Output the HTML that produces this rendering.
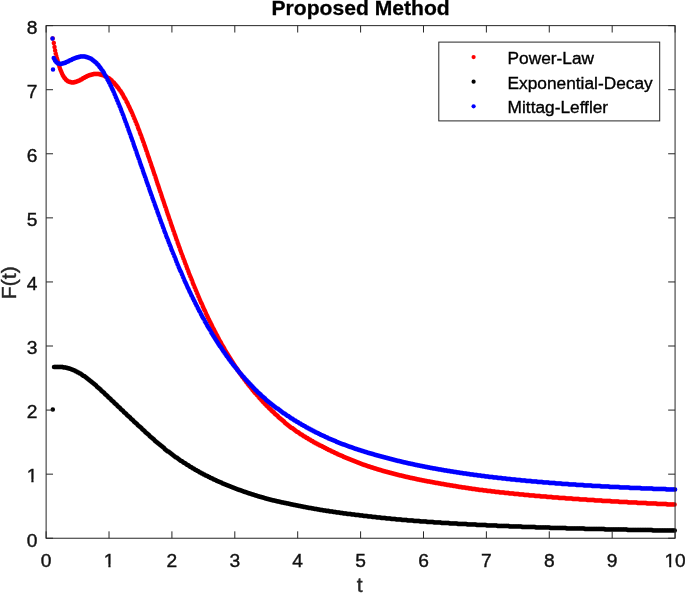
<!DOCTYPE html>
<html><head><meta charset="utf-8"><title>Proposed Method</title>
<style>
html,body{margin:0;padding:0;background:#fff;}
body{width:685px;height:593px;overflow:hidden;}
svg{display:block;font-family:"Liberation Sans",Arial,Helvetica,sans-serif;}
</style></head><body>
<svg width="685" height="593" viewBox="0 0 685 593">
<rect x="0" y="0" width="685" height="593" fill="#fff"/>
<g fill="none" stroke-linecap="round" stroke-linejoin="round" stroke-width="4.5">
<path stroke="#f00" d="M52.7 38.5h0M53.8 43h0M54.5 47h0M55.1 50.5h0M55.7 53.5h0M56.3 56h0M57 58.5h0M57.6 60.5h0M58.23 63h0M58.86 65h0M59.49 67h0M60.12 69h0M60.74 70.5h0M61.37 72h0M62 73.5h0M62.63 75h0M63.26 76h0M63.89 77h0M64.52 78h0M65.15 78.5h0M65.78 79.5h0M66.41 80h0M67.03 80.5h0M67.66 81h0M68.29 81.5h0M68.92 81.5h0M69.55 82h0M70.18 82h0M70.81 82h0M71.44 82.5h0M72.07 82.5h0M72.69 82.5h0M73.32 82.5h0M73.95 82.5h0M74.58 82h0M75.21 82h0M75.84 82h0M76.47 81.5h0M77.1 81.5h0M77.73 81h0M78.36 81h0M78.98 80.5h0M79.61 80.5h0M80.24 80h0M80.87 79.5h0M81.5 79.5h0M82.13 79h0M82.76 78.5h0M83.39 78h0M84.02 78h0M84.64 77.5h0M85.27 77h0M85.9 77h0M86.53 76.5h0M87.16 76h0M87.79 76h0M88.42 75.5h0M89.05 75.5h0M89.68 75h0M90.31 75h0M90.93 75h0M91.56 74.5h0M92.19 74.5h0M92.82 74.5h0M93.45 74h0M94.08 74h0M94.71 74h0M95.34 74h0M95.97 74h0M96.59 74h0M97.22 74h0M97.85 74h0M98.48 74h0M99.11 74h0M99.74 74.5h0M100.37 74.5h0M101 74.5h0M101.63 75h0M102.26 75h0M102.88 75h0M103.51 75.5h0M104.14 75.5h0M104.77 76h0M105.4 76.5h0M106.03 76.5h0M106.66 77h0M107.29 77.5h0M107.92 78h0M108.54 78h0M109.17 78.5h0M109.8 79h0M110.43 79.5h0M111.06 80h0M111.69 80.5h0M112.32 81.5h0M112.95 82h0M113.58 82.5h0M114.21 83h0M114.83 84h0M115.46 84.5h0M116.09 85.5h0M116.72 86h0M117.35 87h0M117.98 87.5h0M118.61 88.5h0M119.24 89.5h0M119.87 90.5h0M120.5 91h0M121.12 92h0M121.75 93h0M122.38 94h0M123.01 95h0M123.64 96.5h0M124.27 97.5h0M124.9 98.5h0M125.53 99.5h0M126.16 101h0M126.78 102h0M127.41 103h0M128.04 104.5h0M128.67 106h0M129.3 107h0M129.93 108.5h0M130.56 110h0M131.19 111h0M131.82 112.5h0M132.45 114h0M133.07 115.5h0M133.7 117h0M134.33 118.5h0M134.96 120h0M135.59 121.5h0M136.22 123h0M136.85 124.5h0M137.48 126h0M138.11 128h0M138.73 129.5h0M139.36 131h0M139.99 133h0M140.62 134.5h0M141.25 136h0M141.88 138h0M142.51 139.5h0M143.14 141.5h0M143.77 143h0M144.4 145h0M145.02 146.5h0M145.65 148.5h0M146.28 150.5h0M146.91 152h0M147.54 154h0M148.17 156h0M148.8 157.5h0M149.43 159.5h0M150.06 161.5h0M150.68 163h0M151.31 165h0M151.94 167h0M152.57 168.5h0M153.2 170.5h0M153.83 172.5h0M154.46 174.5h0M155.09 176h0M155.72 178h0M156.35 180h0M156.97 182h0M157.6 184h0M158.23 185.5h0M158.86 187.5h0M159.49 189.5h0M160.12 191.5h0M160.75 193h0M161.38 195h0M162.01 197h0M162.63 199h0M163.26 200.5h0M163.89 202.5h0M164.52 204.5h0M165.15 206.5h0M165.78 208h0M166.41 210h0M167.04 212h0M167.67 214h0M168.3 215.5h0M168.92 217.5h0M169.55 219.5h0M170.18 221h0M170.81 223h0M171.44 225h0M172.07 226.5h0M172.7 228.5h0M173.33 230.5h0M173.96 232h0M174.58 234h0M175.21 235.5h0M175.84 237.5h0M176.47 239.5h0M177.1 241h0M177.73 243h0M178.36 244.5h0M178.99 246.5h0M179.62 248h0M180.25 250h0M180.87 251.5h0M181.5 253.5h0M182.13 255h0M182.76 256.5h0M183.39 258.5h0M184.02 260h0M184.65 261.5h0M185.28 263.5h0M185.91 265h0M186.53 266.5h0M187.16 268.5h0M187.79 270h0M188.42 271.5h0M189.05 273.5h0M189.68 275h0M190.31 276.5h0M190.94 278h0M191.57 279.5h0M192.2 281h0M192.82 283h0M193.45 284.5h0M194.08 286h0M194.71 287.5h0M195.34 289h0M195.97 290.5h0M196.6 292h0M197.23 293.5h0M197.86 295h0M198.48 296.5h0M199.11 298h0M199.74 299.5h0M200.37 301h0M201 302.5h0M201.63 303.5h0M202.26 305h0M202.89 306.5h0M203.52 308h0M204.15 309.5h0M204.77 310.5h0M205.4 312h0M206.03 313.5h0M206.66 315h0M207.29 316h0M207.92 317.5h0M208.55 319h0M209.18 320h0M209.81 321.5h0M210.43 322.5h0M211.06 324h0M211.69 325h0M212.32 326.5h0M212.95 328h0M213.58 329h0M214.21 330h0M214.84 331.5h0M215.47 332.5h0M216.1 334h0M216.72 335h0M217.35 336h0M217.98 337.5h0M218.61 338.5h0M219.24 340h0M219.87 341h0M220.5 342h0M221.13 343h0M221.76 344.5h0M222.38 345.5h0M223.01 346.5h0M223.64 347.5h0M224.27 348.5h0M224.9 350h0M225.53 351h0M226.16 352h0M226.79 353h0M227.42 354h0M228.05 355h0M228.67 356h0M229.3 357h0M229.93 358h0M230.56 359h0M231.19 360h0M231.82 361h0M232.45 362h0M233.08 363h0M233.71 364h0M234.33 365h0M234.96 366h0M235.59 367h0M236.22 368h0M236.85 368.5h0M237.48 369.5h0M238.11 370.5h0M238.74 371.5h0M239.37 372.5h0M240 373.5h0M240.62 374h0M241.25 375h0M241.88 376h0M242.51 377h0M243.14 377.5h0M243.77 378.5h0M244.4 379.5h0M245.03 380h0M245.66 381h0M246.29 382h0M246.91 382.5h0M247.54 383.5h0M248.17 384.5h0M248.8 385h0M249.43 386h0M250.06 386.5h0M250.69 387.5h0M251.32 388h0M251.95 389h0M252.57 390h0M253.2 390.5h0M253.83 391.5h0M254.46 392h0M255.09 393h0M255.72 393.5h0M256.35 394h0M256.98 395h0M257.61 395.5h0M258.24 396.5h0M258.86 397h0M259.49 398h0M260.12 398.5h0M260.75 399h0M261.38 400h0M262.01 400.5h0M262.64 401.5h0M263.27 402h0M263.9 402.5h0M264.52 403.5h0M265.15 404h0M265.78 404.5h0M266.41 405.5h0M267.04 406h0M267.67 406.5h0M268.3 407h0M268.93 408h0M269.56 408.5h0M270.19 409h0M270.81 409.5h0M271.44 410.5h0M272.07 411h0M272.7 411.5h0M273.33 412h0M273.96 412.5h0M274.59 413.5h0M275.22 414h0M275.85 414.5h0M276.47 415h0M277.1 415.5h0M277.73 416h0M278.36 417h0M278.99 417.5h0M279.62 418h0M280.25 418.5h0M280.88 419h0M281.51 419.5h0M282.14 420h0M282.76 420.5h0M283.39 421h0M284.02 421.5h0M284.65 422.5h0M285.28 423h0M285.91 423.5h0M286.54 424h0M287.17 424.5h0M287.8 425h0M288.42 425.5h0M289.05 426h0M289.68 426.5h0M290.31 427h0M290.94 427.5h0M291.57 428h0M292.2 428h0M292.83 428.5h0M293.46 429h0M294.09 429.5h0M294.71 430h0M295.34 430.5h0M295.97 431h0M296.6 431.5h0M297.23 432h0M297.86 432h0M298.49 432.5h0M299.12 433h0M299.75 433.5h0M300.37 434h0M301 434.5h0M301.63 434.5h0M302.26 435h0M302.89 435.5h0M303.52 436h0M304.15 436.5h0M304.78 436.5h0M305.41 437h0M306.04 437.5h0M306.66 438h0M307.29 438h0M307.92 438.5h0M308.55 439h0M309.18 439.5h0M309.81 439.5h0M310.44 440h0M311.07 440.5h0M311.7 441h0M312.32 441h0M312.95 441.5h0M313.58 442h0M314.21 442.5h0M314.84 442.5h0M315.47 443h0M316.1 443.5h0M316.73 443.5h0M317.36 444h0M317.99 444.5h0M318.61 444.5h0M319.24 445h0M319.87 445.5h0M320.5 445.5h0M321.13 446h0M321.76 446h0M322.39 446.5h0M323.02 447h0M323.65 447h0M324.27 447.5h0M324.9 448h0M325.53 448h0M326.16 448.5h0M326.79 449h0M327.42 449h0M328.05 449.5h0M328.68 450h0M329.31 450h0M329.94 450.5h0M330.56 450.5h0M331.19 451h0M331.82 451.5h0M332.45 451.5h0M333.08 452h0M333.71 452h0M334.34 452.5h0M334.97 453h0M335.6 453h0M336.22 453.5h0M336.85 453.5h0M337.48 454h0M338.11 454.5h0M338.74 454.5h0M339.37 455h0M340 455h0M340.63 455.5h0M341.26 455.5h0M341.89 456h0M342.51 456h0M343.14 456.5h0M343.77 457h0M344.4 457h0M345.03 457.5h0M345.66 457.5h0M346.29 458h0M346.92 458h0M347.55 458.5h0M348.17 458.5h0M348.8 459h0M349.43 459h0M350.06 459.5h0M350.69 459.5h0M351.32 460h0M351.95 460h0M352.58 460.5h0M353.21 460.5h0M353.84 461h0M354.46 461h0M355.09 461.5h0M355.72 461.5h0M356.35 462h0M356.98 462h0M357.61 462.5h0M358.24 462.5h0M358.87 463h0M359.5 463h0M360.12 463.5h0M360.75 463.5h0M361.38 464h0M362.01 464h0M362.64 464.5h0M363.27 464.5h0M363.9 465h0M364.53 465h0M365.16 465h0M365.79 465.5h0M366.41 465.5h0M367.04 466h0M367.67 466h0M368.3 466.5h0M368.93 466.5h0M369.56 466.5h0M370.19 467h0M370.82 467h0M371.45 467.5h0M372.08 467.5h0M372.7 467.5h0M373.33 468h0M373.96 468h0M374.59 468.5h0M375.22 468.5h0M375.85 468.5h0M376.48 469h0M377.11 469h0M377.74 469.5h0M378.36 469.5h0M378.99 469.5h0M379.62 470h0M380.25 470h0M380.88 470h0M381.51 470.5h0M382.14 470.5h0M382.77 471h0M383.4 471h0M384.03 471h0M384.65 471.5h0M385.28 471.5h0M385.91 471.5h0M386.54 472h0M387.17 472h0M387.8 472h0M388.43 472.5h0M389.06 472.5h0M389.69 472.5h0M390.31 473h0M390.94 473h0M391.57 473h0M392.2 473.5h0M392.83 473.5h0M393.46 473.5h0M394.09 474h0M394.72 474h0M395.35 474h0M395.98 474.5h0M396.6 474.5h0M397.23 474.5h0M397.86 475h0M398.49 475h0M399.12 475h0M399.75 475.5h0M400.38 475.5h0M401.01 475.5h0M401.64 475.5h0M402.26 476h0M402.89 476h0M403.52 476h0M404.15 476.5h0M404.78 476.5h0M405.41 476.5h0M406.04 477h0M406.67 477h0M407.3 477h0M407.93 477h0M408.55 477.5h0M409.18 477.5h0M409.81 477.5h0M410.44 478h0M411.07 478h0M411.7 478h0M412.33 478h0M412.96 478.5h0M413.59 478.5h0M414.21 478.5h0M414.84 478.5h0M415.47 479h0M416.1 479h0M416.73 479h0M417.36 479.5h0M417.99 479.5h0M418.62 479.5h0M419.25 479.5h0M419.88 480h0M420.5 480h0M421.13 480h0M421.76 480h0M422.39 480.5h0M423.02 480.5h0M423.65 480.5h0M424.28 480.5h0M424.91 481h0M425.54 481h0M426.16 481h0M426.79 481h0M427.42 481.5h0M428.05 481.5h0M428.68 481.5h0M429.31 481.5h0M429.94 481.5h0M430.57 482h0M431.2 482h0M431.83 482h0M432.45 482h0M433.08 482.5h0M433.71 482.5h0M434.34 482.5h0M434.97 482.5h0M435.6 483h0M436.23 483h0M436.86 483h0M437.49 483h0M438.11 483h0M438.74 483.5h0M439.37 483.5h0M440 483.5h0M440.63 483.5h0M441.26 484h0M441.89 484h0M442.52 484h0M443.15 484h0M443.78 484h0M444.4 484.5h0M445.03 484.5h0M445.66 484.5h0M446.29 484.5h0M446.92 485h0M447.55 485h0M448.18 485h0M448.81 485h0M449.44 485h0M450.06 485.5h0M450.69 485.5h0M451.32 485.5h0M451.95 485.5h0M452.58 485.5h0M453.21 486h0M453.84 486h0M454.47 486h0M455.1 486h0M455.73 486h0M456.35 486.5h0M456.98 486.5h0M457.61 486.5h0M458.24 486.5h0M458.87 487h0M459.5 487h0M460.13 487h0M460.76 487h0M461.39 487h0M462.01 487.5h0M462.64 487.5h0M463.27 487.5h0M463.9 487.5h0M464.53 487.5h0M465.16 487.5h0M465.79 488h0M466.42 488h0M467.05 488h0M467.68 488h0M468.3 488h0M468.93 488.5h0M469.56 488.5h0M470.19 488.5h0M470.82 488.5h0M471.45 488.5h0M472.08 489h0M472.71 489h0M473.34 489h0M473.96 489h0M474.59 489h0M475.22 489h0M475.85 489.5h0M476.48 489.5h0M477.11 489.5h0M477.74 489.5h0M478.37 489.5h0M479 490h0M479.63 490h0M480.25 490h0M480.88 490h0M481.51 490h0M482.14 490h0M482.77 490h0M483.4 490.5h0M484.03 490.5h0M484.66 490.5h0M485.29 490.5h0M485.91 490.5h0M486.54 490.5h0M487.17 491h0M487.8 491h0M488.43 491h0M489.06 491h0M489.69 491h0M490.32 491h0M490.95 491h0M491.58 491.5h0M492.2 491.5h0M492.83 491.5h0M493.46 491.5h0M494.09 491.5h0M494.72 491.5h0M495.35 492h0M495.98 492h0M496.61 492h0M497.24 492h0M497.87 492h0M498.49 492h0M499.12 492h0M499.75 492.5h0M500.38 492.5h0M501.01 492.5h0M501.64 492.5h0M502.27 492.5h0M502.9 492.5h0M503.53 492.5h0M504.15 492.5h0M504.78 493h0M505.41 493h0M506.04 493h0M506.67 493h0M507.3 493h0M507.93 493h0M508.56 493h0M509.19 493.5h0M509.82 493.5h0M510.44 493.5h0M511.07 493.5h0M511.7 493.5h0M512.33 493.5h0M512.96 493.5h0M513.59 493.5h0M514.22 494h0M514.85 494h0M515.48 494h0M516.1 494h0M516.73 494h0M517.36 494h0M517.99 494h0M518.62 494h0M519.25 494.5h0M519.88 494.5h0M520.51 494.5h0M521.14 494.5h0M521.77 494.5h0M522.39 494.5h0M523.02 494.5h0M523.65 494.5h0M524.28 495h0M524.91 495h0M525.54 495h0M526.17 495h0M526.8 495h0M527.43 495h0M528.05 495h0M528.68 495h0M529.31 495.5h0M529.94 495.5h0M530.57 495.5h0M531.2 495.5h0M531.83 495.5h0M532.46 495.5h0M533.09 495.5h0M533.72 495.5h0M534.34 495.5h0M534.97 496h0M535.6 496h0M536.23 496h0M536.86 496h0M537.49 496h0M538.12 496h0M538.75 496h0M539.38 496h0M540 496h0M540.63 496.5h0M541.26 496.5h0M541.89 496.5h0M542.52 496.5h0M543.15 496.5h0M543.78 496.5h0M544.41 496.5h0M545.04 496.5h0M545.67 496.5h0M546.29 496.5h0M546.92 497h0M547.55 497h0M548.18 497h0M548.81 497h0M549.44 497h0M550.07 497h0M550.7 497h0M551.33 497h0M551.95 497h0M552.58 497.5h0M553.21 497.5h0M553.84 497.5h0M554.47 497.5h0M555.1 497.5h0M555.73 497.5h0M556.36 497.5h0M556.99 497.5h0M557.62 497.5h0M558.24 497.5h0M558.87 498h0M559.5 498h0M560.13 498h0M560.76 498h0M561.39 498h0M562.02 498h0M562.65 498h0M563.28 498h0M563.9 498h0M564.53 498h0M565.16 498h0M565.79 498.5h0M566.42 498.5h0M567.05 498.5h0M567.68 498.5h0M568.31 498.5h0M568.94 498.5h0M569.57 498.5h0M570.19 498.5h0M570.82 498.5h0M571.45 498.5h0M572.08 498.5h0M572.71 499h0M573.34 499h0M573.97 499h0M574.6 499h0M575.23 499h0M575.85 499h0M576.48 499h0M577.11 499h0M577.74 499h0M578.37 499h0M579 499h0M579.63 499.5h0M580.26 499.5h0M580.89 499.5h0M581.52 499.5h0M582.14 499.5h0M582.77 499.5h0M583.4 499.5h0M584.03 499.5h0M584.66 499.5h0M585.29 499.5h0M585.92 499.5h0M586.55 499.5h0M587.18 500h0M587.8 500h0M588.43 500h0M589.06 500h0M589.69 500h0M590.32 500h0M590.95 500h0M591.58 500h0M592.21 500h0M592.84 500h0M593.47 500h0M594.09 500h0M594.72 500.5h0M595.35 500.5h0M595.98 500.5h0M596.61 500.5h0M597.24 500.5h0M597.87 500.5h0M598.5 500.5h0M599.13 500.5h0M599.75 500.5h0M600.38 500.5h0M601.01 500.5h0M601.64 500.5h0M602.27 501h0M602.9 501h0M603.53 501h0M604.16 501h0M604.79 501h0M605.42 501h0M606.04 501h0M606.67 501h0M607.3 501h0M607.93 501h0M608.56 501h0M609.19 501h0M609.82 501h0M610.45 501h0M611.08 501.5h0M611.7 501.5h0M612.33 501.5h0M612.96 501.5h0M613.59 501.5h0M614.22 501.5h0M614.85 501.5h0M615.48 501.5h0M616.11 501.5h0M616.74 501.5h0M617.37 501.5h0M617.99 501.5h0M618.62 501.5h0M619.25 502h0M619.88 502h0M620.51 502h0M621.14 502h0M621.77 502h0M622.4 502h0M623.03 502h0M623.66 502h0M624.28 502h0M624.91 502h0M625.54 502h0M626.17 502h0M626.8 502h0M627.43 502h0M628.06 502.5h0M628.69 502.5h0M629.32 502.5h0M629.94 502.5h0M630.57 502.5h0M631.2 502.5h0M631.83 502.5h0M632.46 502.5h0M633.09 502.5h0M633.72 502.5h0M634.35 502.5h0M634.98 502.5h0M635.61 502.5h0M636.23 502.5h0M636.86 502.5h0M637.49 503h0M638.12 503h0M638.75 503h0M639.38 503h0M640.01 503h0M640.64 503h0M641.27 503h0M641.89 503h0M642.52 503h0M643.15 503h0M643.78 503h0M644.41 503h0M645.04 503h0M645.67 503h0M646.3 503h0M646.93 503.5h0M647.56 503.5h0M648.18 503.5h0M648.81 503.5h0M649.44 503.5h0M650.07 503.5h0M650.7 503.5h0M651.33 503.5h0M651.96 503.5h0M652.59 503.5h0M653.22 503.5h0M653.84 503.5h0M654.47 503.5h0M655.1 503.5h0M655.73 503.5h0M656.36 503.5h0M656.99 504h0M657.62 504h0M658.25 504h0M658.88 504h0M659.51 504h0M660.13 504h0M660.76 504h0M661.39 504h0M662.02 504h0M662.65 504h0M663.28 504h0M663.91 504h0M664.54 504h0M665.17 504h0M665.79 504h0M666.42 504h0M667.05 504.5h0M667.68 504.5h0M668.31 504.5h0M668.94 504.5h0M669.57 504.5h0M670.2 504.5h0M670.83 504.5h0M671.46 504.5h0M672.08 504.5h0M672.71 504.5h0M673.34 504.5h0M673.97 504.5h0M674.6 504.5h0"/>
<path stroke="#000" d="M52.8 409.5h0M54 367h0M54.63 367h0M55.26 367h0M55.89 367h0M56.52 367h0M57.14 367h0M57.77 367h0M58.4 367h0M59.03 367h0M59.66 367h0M60.29 367h0M60.92 367h0M61.55 367h0M62.18 367h0M62.81 367h0M63.43 367.5h0M64.06 367.5h0M64.69 367.5h0M65.32 367.5h0M65.95 367.5h0M66.58 368h0M67.21 368h0M67.84 368h0M68.47 368.5h0M69.09 368.5h0M69.72 368.5h0M70.35 369h0M70.98 369h0M71.61 369.5h0M72.24 369.5h0M72.87 370h0M73.5 370h0M74.13 370.5h0M74.76 370.5h0M75.38 371h0M76.01 371.5h0M76.64 371.5h0M77.27 372h0M77.9 372.5h0M78.53 372.5h0M79.16 373h0M79.79 373.5h0M80.42 373.5h0M81.04 374h0M81.67 374.5h0M82.3 375h0M82.93 375.5h0M83.56 376h0M84.19 376h0M84.82 376.5h0M85.45 377h0M86.08 377.5h0M86.71 378h0M87.33 378.5h0M87.96 379h0M88.59 379.5h0M89.22 380h0M89.85 380.5h0M90.48 381h0M91.11 381.5h0M91.74 382h0M92.37 382.5h0M92.99 383h0M93.62 383.5h0M94.25 384h0M94.88 384.5h0M95.51 385h0M96.14 385.5h0M96.77 386.5h0M97.4 387h0M98.03 387.5h0M98.66 388h0M99.28 388.5h0M99.91 389h0M100.54 389.5h0M101.17 390.5h0M101.8 391h0M102.43 391.5h0M103.06 392h0M103.69 392.5h0M104.32 393h0M104.94 394h0M105.57 394.5h0M106.2 395h0M106.83 395.5h0M107.46 396h0M108.09 397h0M108.72 397.5h0M109.35 398h0M109.98 398.5h0M110.61 399h0M111.23 400h0M111.86 400.5h0M112.49 401h0M113.12 401.5h0M113.75 402h0M114.38 403h0M115.01 403.5h0M115.64 404h0M116.27 404.5h0M116.9 405h0M117.52 406h0M118.15 406.5h0M118.78 407h0M119.41 407.5h0M120.04 408h0M120.67 409h0M121.3 409.5h0M121.93 410h0M122.56 410.5h0M123.18 411h0M123.81 412h0M124.44 412.5h0M125.07 413h0M125.7 413.5h0M126.33 414h0M126.96 415h0M127.59 415.5h0M128.22 416h0M128.85 416.5h0M129.47 417h0M130.1 417.5h0M130.73 418.5h0M131.36 419h0M131.99 419.5h0M132.62 420h0M133.25 420.5h0M133.88 421.5h0M134.51 422h0M135.13 422.5h0M135.76 423h0M136.39 423.5h0M137.02 424h0M137.65 425h0M138.28 425.5h0M138.91 426h0M139.54 426.5h0M140.17 427h0M140.8 427.5h0M141.42 428h0M142.05 429h0M142.68 429.5h0M143.31 430h0M143.94 430.5h0M144.57 431h0M145.2 432h0M145.83 432.5h0M146.46 433h0M147.08 433.5h0M147.71 434h0M148.34 434.5h0M148.97 435h0M149.6 436h0M150.23 436.5h0M150.86 437h0M151.49 437.5h0M152.12 438h0M152.75 438.5h0M153.37 439h0M154 439.5h0M154.63 440.5h0M155.26 441h0M155.89 441.5h0M156.52 442h0M157.15 442.5h0M157.78 443h0M158.41 443.5h0M159.03 444h0M159.66 444.5h0M160.29 445h0M160.92 445.5h0M161.55 446h0M162.18 446.5h0M162.81 447h0M163.44 447.5h0M164.07 448h0M164.7 449h0M165.32 449.5h0M165.95 450h0M166.58 450.5h0M167.21 451h0M167.84 451.5h0M168.47 451.5h0M169.1 452h0M169.73 452.5h0M170.36 453h0M170.98 453.5h0M171.61 454h0M172.24 454.5h0M172.87 455h0M173.5 455.5h0M174.13 456h0M174.76 456.5h0M175.39 457h0M176.02 457.5h0M176.65 457.5h0M177.27 458h0M177.9 458.5h0M178.53 459h0M179.16 459.5h0M179.79 460h0M180.42 460.5h0M181.05 461h0M181.68 461h0M182.31 461.5h0M182.93 462h0M183.56 462.5h0M184.19 463h0M184.82 463h0M185.45 463.5h0M186.08 464h0M186.71 464.5h0M187.34 465h0M187.97 465h0M188.6 465.5h0M189.22 466h0M189.85 466.5h0M190.48 467h0M191.11 467h0M191.74 467.5h0M192.37 468h0M193 468.5h0M193.63 468.5h0M194.26 469h0M194.88 469.5h0M195.51 470h0M196.14 470h0M196.77 470.5h0M197.4 471h0M198.03 471h0M198.66 471.5h0M199.29 472h0M199.92 472.5h0M200.55 472.5h0M201.17 473h0M201.8 473.5h0M202.43 473.5h0M203.06 474h0M203.69 474.5h0M204.32 474.5h0M204.95 475h0M205.58 475.5h0M206.21 475.5h0M206.83 476h0M207.46 476h0M208.09 476.5h0M208.72 477h0M209.35 477h0M209.98 477.5h0M210.61 478h0M211.24 478h0M211.87 478.5h0M212.5 478.5h0M213.12 479h0M213.75 479.5h0M214.38 479.5h0M215.01 480h0M215.64 480h0M216.27 480.5h0M216.9 481h0M217.53 481h0M218.16 481.5h0M218.78 481.5h0M219.41 482h0M220.04 482h0M220.67 482.5h0M221.3 482.5h0M221.93 483h0M222.56 483.5h0M223.19 483.5h0M223.82 484h0M224.45 484h0M225.07 484.5h0M225.7 484.5h0M226.33 485h0M226.96 485h0M227.59 485.5h0M228.22 485.5h0M228.85 486h0M229.48 486h0M230.11 486.5h0M230.73 486.5h0M231.36 487h0M231.99 487h0M232.62 487.5h0M233.25 487.5h0M233.88 488h0M234.51 488h0M235.14 488.5h0M235.77 488.5h0M236.4 489h0M237.02 489h0M237.65 489.5h0M238.28 489.5h0M238.91 490h0M239.54 490h0M240.17 490h0M240.8 490.5h0M241.43 490.5h0M242.06 491h0M242.69 491h0M243.31 491.5h0M243.94 491.5h0M244.57 492h0M245.2 492h0M245.83 492h0M246.46 492.5h0M247.09 492.5h0M247.72 493h0M248.35 493h0M248.97 493.5h0M249.6 493.5h0M250.23 493.5h0M250.86 494h0M251.49 494h0M252.12 494.5h0M252.75 494.5h0M253.38 494.5h0M254.01 495h0M254.64 495h0M255.26 495.5h0M255.89 495.5h0M256.52 495.5h0M257.15 496h0M257.78 496h0M258.41 496.5h0M259.04 496.5h0M259.67 496.5h0M260.3 497h0M260.92 497h0M261.55 497h0M262.18 497.5h0M262.81 497.5h0M263.44 497.5h0M264.07 498h0M264.7 498h0M265.33 498.5h0M265.96 498.5h0M266.59 498.5h0M267.21 499h0M267.84 499h0M268.47 499h0M269.1 499.5h0M269.73 499.5h0M270.36 499.5h0M270.99 500h0M271.62 500h0M272.25 500h0M272.87 500.5h0M273.5 500.5h0M274.13 500.5h0M274.76 500.5h0M275.39 501h0M276.02 501h0M276.65 501h0M277.28 501.5h0M277.91 501.5h0M278.54 501.5h0M279.16 501.5h0M279.79 502h0M280.42 502h0M281.05 502h0M281.68 502.5h0M282.31 502.5h0M282.94 502.5h0M283.57 502.5h0M284.2 503h0M284.82 503h0M285.45 503h0M286.08 503h0M286.71 503.5h0M287.34 503.5h0M287.97 503.5h0M288.6 503.5h0M289.23 504h0M289.86 504h0M290.49 504h0M291.11 504.5h0M291.74 504.5h0M292.37 504.5h0M293 504.5h0M293.63 505h0M294.26 505h0M294.89 505h0M295.52 505h0M296.15 505.5h0M296.77 505.5h0M297.4 505.5h0M298.03 505.5h0M298.66 506h0M299.29 506h0M299.92 506h0M300.55 506h0M301.18 506.5h0M301.81 506.5h0M302.44 506.5h0M303.06 506.5h0M303.69 507h0M304.32 507h0M304.95 507h0M305.58 507h0M306.21 507.5h0M306.84 507.5h0M307.47 507.5h0M308.1 507.5h0M308.72 508h0M309.35 508h0M309.98 508h0M310.61 508h0M311.24 508h0M311.87 508.5h0M312.5 508.5h0M313.13 508.5h0M313.76 508.5h0M314.39 509h0M315.01 509h0M315.64 509h0M316.27 509h0M316.9 509h0M317.53 509.5h0M318.16 509.5h0M318.79 509.5h0M319.42 509.5h0M320.05 510h0M320.67 510h0M321.3 510h0M321.93 510h0M322.56 510h0M323.19 510.5h0M323.82 510.5h0M324.45 510.5h0M325.08 510.5h0M325.71 510.5h0M326.34 511h0M326.96 511h0M327.59 511h0M328.22 511h0M328.85 511h0M329.48 511.5h0M330.11 511.5h0M330.74 511.5h0M331.37 511.5h0M332 511.5h0M332.62 511.5h0M333.25 512h0M333.88 512h0M334.51 512h0M335.14 512h0M335.77 512h0M336.4 512.5h0M337.03 512.5h0M337.66 512.5h0M338.29 512.5h0M338.91 512.5h0M339.54 512.5h0M340.17 513h0M340.8 513h0M341.43 513h0M342.06 513h0M342.69 513h0M343.32 513.5h0M343.95 513.5h0M344.57 513.5h0M345.2 513.5h0M345.83 513.5h0M346.46 513.5h0M347.09 514h0M347.72 514h0M348.35 514h0M348.98 514h0M349.61 514h0M350.24 514h0M350.86 514h0M351.49 514.5h0M352.12 514.5h0M352.75 514.5h0M353.38 514.5h0M354.01 514.5h0M354.64 514.5h0M355.27 515h0M355.9 515h0M356.52 515h0M357.15 515h0M357.78 515h0M358.41 515h0M359.04 515h0M359.67 515.5h0M360.3 515.5h0M360.93 515.5h0M361.56 515.5h0M362.19 515.5h0M362.81 515.5h0M363.44 516h0M364.07 516h0M364.7 516h0M365.33 516h0M365.96 516h0M366.59 516h0M367.22 516h0M367.85 516.5h0M368.48 516.5h0M369.1 516.5h0M369.73 516.5h0M370.36 516.5h0M370.99 516.5h0M371.62 516.5h0M372.25 517h0M372.88 517h0M373.51 517h0M374.14 517h0M374.76 517h0M375.39 517h0M376.02 517h0M376.65 517.5h0M377.28 517.5h0M377.91 517.5h0M378.54 517.5h0M379.17 517.5h0M379.8 517.5h0M380.43 517.5h0M381.05 518h0M381.68 518h0M382.31 518h0M382.94 518h0M383.57 518h0M384.2 518h0M384.83 518h0M385.46 518h0M386.09 518.5h0M386.71 518.5h0M387.34 518.5h0M387.97 518.5h0M388.6 518.5h0M389.23 518.5h0M389.86 518.5h0M390.49 518.5h0M391.12 519h0M391.75 519h0M392.38 519h0M393 519h0M393.63 519h0M394.26 519h0M394.89 519h0M395.52 519h0M396.15 519.5h0M396.78 519.5h0M397.41 519.5h0M398.04 519.5h0M398.66 519.5h0M399.29 519.5h0M399.92 519.5h0M400.55 519.5h0M401.18 519.5h0M401.81 520h0M402.44 520h0M403.07 520h0M403.7 520h0M404.33 520h0M404.95 520h0M405.58 520h0M406.21 520h0M406.84 520h0M407.47 520.5h0M408.1 520.5h0M408.73 520.5h0M409.36 520.5h0M409.99 520.5h0M410.61 520.5h0M411.24 520.5h0M411.87 520.5h0M412.5 520.5h0M413.13 520.5h0M413.76 521h0M414.39 521h0M415.02 521h0M415.65 521h0M416.28 521h0M416.9 521h0M417.53 521h0M418.16 521h0M418.79 521h0M419.42 521h0M420.05 521.5h0M420.68 521.5h0M421.31 521.5h0M421.94 521.5h0M422.56 521.5h0M423.19 521.5h0M423.82 521.5h0M424.45 521.5h0M425.08 521.5h0M425.71 521.5h0M426.34 521.5h0M426.97 522h0M427.6 522h0M428.23 522h0M428.85 522h0M429.48 522h0M430.11 522h0M430.74 522h0M431.37 522h0M432 522h0M432.63 522h0M433.26 522h0M433.89 522.5h0M434.51 522.5h0M435.14 522.5h0M435.77 522.5h0M436.4 522.5h0M437.03 522.5h0M437.66 522.5h0M438.29 522.5h0M438.92 522.5h0M439.55 522.5h0M440.18 522.5h0M440.8 522.5h0M441.43 523h0M442.06 523h0M442.69 523h0M443.32 523h0M443.95 523h0M444.58 523h0M445.21 523h0M445.84 523h0M446.46 523h0M447.09 523h0M447.72 523h0M448.35 523h0M448.98 523h0M449.61 523.5h0M450.24 523.5h0M450.87 523.5h0M451.5 523.5h0M452.13 523.5h0M452.75 523.5h0M453.38 523.5h0M454.01 523.5h0M454.64 523.5h0M455.27 523.5h0M455.9 523.5h0M456.53 523.5h0M457.16 523.5h0M457.79 524h0M458.41 524h0M459.04 524h0M459.67 524h0M460.3 524h0M460.93 524h0M461.56 524h0M462.19 524h0M462.82 524h0M463.45 524h0M464.08 524h0M464.7 524h0M465.33 524h0M465.96 524h0M466.59 524h0M467.22 524.5h0M467.85 524.5h0M468.48 524.5h0M469.11 524.5h0M469.74 524.5h0M470.36 524.5h0M470.99 524.5h0M471.62 524.5h0M472.25 524.5h0M472.88 524.5h0M473.51 524.5h0M474.14 524.5h0M474.77 524.5h0M475.4 524.5h0M476.03 524.5h0M476.65 525h0M477.28 525h0M477.91 525h0M478.54 525h0M479.17 525h0M479.8 525h0M480.43 525h0M481.06 525h0M481.69 525h0M482.31 525h0M482.94 525h0M483.57 525h0M484.2 525h0M484.83 525h0M485.46 525h0M486.09 525h0M486.72 525.5h0M487.35 525.5h0M487.98 525.5h0M488.6 525.5h0M489.23 525.5h0M489.86 525.5h0M490.49 525.5h0M491.12 525.5h0M491.75 525.5h0M492.38 525.5h0M493.01 525.5h0M493.64 525.5h0M494.27 525.5h0M494.89 525.5h0M495.52 525.5h0M496.15 525.5h0M496.78 525.5h0M497.41 526h0M498.04 526h0M498.67 526h0M499.3 526h0M499.93 526h0M500.55 526h0M501.18 526h0M501.81 526h0M502.44 526h0M503.07 526h0M503.7 526h0M504.33 526h0M504.96 526h0M505.59 526h0M506.22 526h0M506.84 526h0M507.47 526h0M508.1 526h0M508.73 526h0M509.36 526.5h0M509.99 526.5h0M510.62 526.5h0M511.25 526.5h0M511.88 526.5h0M512.5 526.5h0M513.13 526.5h0M513.76 526.5h0M514.39 526.5h0M515.02 526.5h0M515.65 526.5h0M516.28 526.5h0M516.91 526.5h0M517.54 526.5h0M518.17 526.5h0M518.79 526.5h0M519.42 526.5h0M520.05 526.5h0M520.68 526.5h0M521.31 526.5h0M521.94 527h0M522.57 527h0M523.2 527h0M523.83 527h0M524.45 527h0M525.08 527h0M525.71 527h0M526.34 527h0M526.97 527h0M527.6 527h0M528.23 527h0M528.86 527h0M529.49 527h0M530.12 527h0M530.74 527h0M531.37 527h0M532 527h0M532.63 527h0M533.26 527h0M533.89 527h0M534.52 527h0M535.15 527h0M535.78 527.5h0M536.4 527.5h0M537.03 527.5h0M537.66 527.5h0M538.29 527.5h0M538.92 527.5h0M539.55 527.5h0M540.18 527.5h0M540.81 527.5h0M541.44 527.5h0M542.07 527.5h0M542.69 527.5h0M543.32 527.5h0M543.95 527.5h0M544.58 527.5h0M545.21 527.5h0M545.84 527.5h0M546.47 527.5h0M547.1 527.5h0M547.73 527.5h0M548.35 527.5h0M548.98 527.5h0M549.61 527.5h0M550.24 528h0M550.87 528h0M551.5 528h0M552.13 528h0M552.76 528h0M553.39 528h0M554.02 528h0M554.64 528h0M555.27 528h0M555.9 528h0M556.53 528h0M557.16 528h0M557.79 528h0M558.42 528h0M559.05 528h0M559.68 528h0M560.3 528h0M560.93 528h0M561.56 528h0M562.19 528h0M562.82 528h0M563.45 528h0M564.08 528h0M564.71 528h0M565.34 528h0M565.97 528h0M566.59 528.5h0M567.22 528.5h0M567.85 528.5h0M568.48 528.5h0M569.11 528.5h0M569.74 528.5h0M570.37 528.5h0M571 528.5h0M571.63 528.5h0M572.25 528.5h0M572.88 528.5h0M573.51 528.5h0M574.14 528.5h0M574.77 528.5h0M575.4 528.5h0M576.03 528.5h0M576.66 528.5h0M577.29 528.5h0M577.92 528.5h0M578.54 528.5h0M579.17 528.5h0M579.8 528.5h0M580.43 528.5h0M581.06 528.5h0M581.69 528.5h0M582.32 528.5h0M582.95 528.5h0M583.58 528.5h0M584.2 528.5h0M584.83 529h0M585.46 529h0M586.09 529h0M586.72 529h0M587.35 529h0M587.98 529h0M588.61 529h0M589.24 529h0M589.87 529h0M590.49 529h0M591.12 529h0M591.75 529h0M592.38 529h0M593.01 529h0M593.64 529h0M594.27 529h0M594.9 529h0M595.53 529h0M596.15 529h0M596.78 529h0M597.41 529h0M598.04 529h0M598.67 529h0M599.3 529h0M599.93 529h0M600.56 529h0M601.19 529h0M601.82 529h0M602.44 529h0M603.07 529h0M603.7 529h0M604.33 529h0M604.96 529.5h0M605.59 529.5h0M606.22 529.5h0M606.85 529.5h0M607.48 529.5h0M608.1 529.5h0M608.73 529.5h0M609.36 529.5h0M609.99 529.5h0M610.62 529.5h0M611.25 529.5h0M611.88 529.5h0M612.51 529.5h0M613.14 529.5h0M613.77 529.5h0M614.39 529.5h0M615.02 529.5h0M615.65 529.5h0M616.28 529.5h0M616.91 529.5h0M617.54 529.5h0M618.17 529.5h0M618.8 529.5h0M619.43 529.5h0M620.06 529.5h0M620.68 529.5h0M621.31 529.5h0M621.94 529.5h0M622.57 529.5h0M623.2 529.5h0M623.83 529.5h0M624.46 529.5h0M625.09 529.5h0M625.72 529.5h0M626.34 529.5h0M626.97 529.5h0M627.6 530h0M628.23 530h0M628.86 530h0M629.49 530h0M630.12 530h0M630.75 530h0M631.38 530h0M632.01 530h0M632.63 530h0M633.26 530h0M633.89 530h0M634.52 530h0M635.15 530h0M635.78 530h0M636.41 530h0M637.04 530h0M637.67 530h0M638.29 530h0M638.92 530h0M639.55 530h0M640.18 530h0M640.81 530h0M641.44 530h0M642.07 530h0M642.7 530h0M643.33 530h0M643.96 530h0M644.58 530h0M645.21 530h0M645.84 530h0M646.47 530h0M647.1 530h0M647.73 530h0M648.36 530h0M648.99 530h0M649.62 530h0M650.24 530h0M650.87 530h0M651.5 530h0M652.13 530h0M652.76 530.5h0M653.39 530.5h0M654.02 530.5h0M654.65 530.5h0M655.28 530.5h0M655.91 530.5h0M656.53 530.5h0M657.16 530.5h0M657.79 530.5h0M658.42 530.5h0M659.05 530.5h0M659.68 530.5h0M660.31 530.5h0M660.94 530.5h0M661.57 530.5h0M662.19 530.5h0M662.82 530.5h0M663.45 530.5h0M664.08 530.5h0M664.71 530.5h0M665.34 530.5h0M665.97 530.5h0M666.6 530.5h0M667.23 530.5h0M667.86 530.5h0M668.48 530.5h0M669.11 530.5h0M669.74 530.5h0M670.37 530.5h0M671 530.5h0M671.63 530.5h0M672.26 530.5h0M672.89 530.5h0M673.52 530.5h0M674.14 530.5h0M674.77 530.5h0"/>
<path stroke="#00f" d="M52.5 38.5h0M53 69.5h0M53.7 58h0M54.33 59h0M54.96 60.5h0M55.59 61h0M56.22 62h0M56.84 62.5h0M57.47 63h0M58.1 63.5h0M58.73 63.5h0M59.36 63.5h0M59.99 64h0M60.62 64h0M61.25 64h0M61.88 63.5h0M62.51 63.5h0M63.13 63.5h0M63.76 63h0M64.39 63h0M65.02 63h0M65.65 62.5h0M66.28 62h0M66.91 62h0M67.54 61.5h0M68.17 61.5h0M68.79 61h0M69.42 60.5h0M70.05 60.5h0M70.68 60h0M71.31 60h0M71.94 59.5h0M72.57 59h0M73.2 59h0M73.83 58.5h0M74.46 58.5h0M75.08 58h0M75.71 58h0M76.34 57.5h0M76.97 57.5h0M77.6 57.5h0M78.23 57h0M78.86 57h0M79.49 57h0M80.12 56.5h0M80.74 56.5h0M81.37 56.5h0M82 56.5h0M82.63 56.5h0M83.26 56.5h0M83.89 56.5h0M84.52 56.5h0M85.15 56.5h0M85.78 57h0M86.41 57h0M87.03 57h0M87.66 57.5h0M88.29 57.5h0M88.92 58h0M89.55 58h0M90.18 58.5h0M90.81 58.5h0M91.44 59h0M92.07 59.5h0M92.69 60h0M93.32 60.5h0M93.95 61h0M94.58 61.5h0M95.21 62h0M95.84 62.5h0M96.47 63h0M97.1 64h0M97.73 64.5h0M98.36 65h0M98.98 66h0M99.61 67h0M100.24 67.5h0M100.87 68.5h0M101.5 69.5h0M102.13 70.5h0M102.76 71h0M103.39 72h0M104.02 73h0M104.64 74.5h0M105.27 75.5h0M105.9 76.5h0M106.53 77.5h0M107.16 79h0M107.79 80h0M108.42 81h0M109.05 82.5h0M109.68 83.5h0M110.31 85h0M110.93 86h0M111.56 87.5h0M112.19 89h0M112.82 90h0M113.45 91.5h0M114.08 93h0M114.71 94.5h0M115.34 96h0M115.97 97.5h0M116.6 99h0M117.22 100.5h0M117.85 102h0M118.48 103.5h0M119.11 105h0M119.74 106.5h0M120.37 108h0M121 109.5h0M121.63 111.5h0M122.26 113h0M122.88 114.5h0M123.51 116h0M124.14 118h0M124.77 119.5h0M125.4 121.5h0M126.03 123h0M126.66 124.5h0M127.29 126.5h0M127.92 128h0M128.55 130h0M129.17 131.5h0M129.8 133.5h0M130.43 135h0M131.06 137h0M131.69 138.5h0M132.32 140.5h0M132.95 142h0M133.58 144h0M134.21 146h0M134.83 147.5h0M135.46 149.5h0M136.09 151h0M136.72 153h0M137.35 155h0M137.98 156.5h0M138.61 158.5h0M139.24 160h0M139.87 162h0M140.5 164h0M141.12 165.5h0M141.75 167.5h0M142.38 169h0M143.01 171h0M143.64 173h0M144.27 174.5h0M144.9 176.5h0M145.53 178h0M146.16 180h0M146.78 182h0M147.41 183.5h0M148.04 185.5h0M148.67 187h0M149.3 189h0M149.93 191h0M150.56 192.5h0M151.19 194.5h0M151.82 196h0M152.45 198h0M153.07 199.5h0M153.7 201.5h0M154.33 203h0M154.96 205h0M155.59 206.5h0M156.22 208.5h0M156.85 210h0M157.48 212h0M158.11 213.5h0M158.73 215.5h0M159.36 217h0M159.99 219h0M160.62 220.5h0M161.25 222.5h0M161.88 224h0M162.51 225.5h0M163.14 227.5h0M163.77 229h0M164.4 231h0M165.02 232.5h0M165.65 234h0M166.28 236h0M166.91 237.5h0M167.54 239h0M168.17 240.5h0M168.8 242.5h0M169.43 244h0M170.06 245.5h0M170.68 247h0M171.31 249h0M171.94 250.5h0M172.57 252h0M173.2 253.5h0M173.83 255h0M174.46 256.5h0M175.09 258h0M175.72 259.5h0M176.35 261.5h0M176.97 263h0M177.6 264.5h0M178.23 266h0M178.86 267.5h0M179.49 269h0M180.12 270.5h0M180.75 271.5h0M181.38 273h0M182.01 274.5h0M182.63 276h0M183.26 277.5h0M183.89 279h0M184.52 280.5h0M185.15 282h0M185.78 283h0M186.41 284.5h0M187.04 286h0M187.67 287.5h0M188.3 288.5h0M188.92 290h0M189.55 291.5h0M190.18 292.5h0M190.81 294h0M191.44 295.5h0M192.07 296.5h0M192.7 298h0M193.33 299h0M193.96 300.5h0M194.58 301.5h0M195.21 303h0M195.84 304h0M196.47 305.5h0M197.1 306.5h0M197.73 308h0M198.36 309h0M198.99 310.5h0M199.62 311.5h0M200.25 312.5h0M200.87 314h0M201.5 315h0M202.13 316.5h0M202.76 317.5h0M203.39 318.5h0M204.02 319.5h0M204.65 321h0M205.28 322h0M205.91 323h0M206.53 324h0M207.16 325.5h0M207.79 326.5h0M208.42 327.5h0M209.05 328.5h0M209.68 329.5h0M210.31 330.5h0M210.94 332h0M211.57 333h0M212.2 334h0M212.82 335h0M213.45 336h0M214.08 337h0M214.71 338h0M215.34 339h0M215.97 340h0M216.6 341h0M217.23 342h0M217.86 343h0M218.48 344h0M219.11 345h0M219.74 346h0M220.37 346.5h0M221 347.5h0M221.63 348.5h0M222.26 349.5h0M222.89 350.5h0M223.52 351.5h0M224.15 352.5h0M224.77 353h0M225.4 354h0M226.03 355h0M226.66 356h0M227.29 356.5h0M227.92 357.5h0M228.55 358.5h0M229.18 359.5h0M229.81 360h0M230.43 361h0M231.06 362h0M231.69 362.5h0M232.32 363.5h0M232.95 364.5h0M233.58 365h0M234.21 366h0M234.84 366.5h0M235.47 367.5h0M236.1 368h0M236.72 369h0M237.35 370h0M237.98 370.5h0M238.61 371.5h0M239.24 372h0M239.87 373h0M240.5 373.5h0M241.13 374.5h0M241.76 375h0M242.39 376h0M243.01 376.5h0M243.64 377h0M244.27 378h0M244.9 378.5h0M245.53 379.5h0M246.16 380h0M246.79 380.5h0M247.42 381.5h0M248.05 382h0M248.67 382.5h0M249.3 383.5h0M249.93 384h0M250.56 384.5h0M251.19 385.5h0M251.82 386h0M252.45 386.5h0M253.08 387.5h0M253.71 388h0M254.34 388.5h0M254.96 389.5h0M255.59 390h0M256.22 390.5h0M256.85 391h0M257.48 392h0M258.11 392.5h0M258.74 393h0M259.37 393.5h0M260 394h0M260.62 394.5h0M261.25 395.5h0M261.88 396h0M262.51 396.5h0M263.14 397h0M263.77 397.5h0M264.4 398h0M265.03 398.5h0M265.66 399.5h0M266.29 400h0M266.91 400.5h0M267.54 401h0M268.17 401.5h0M268.8 402h0M269.43 402.5h0M270.06 403h0M270.69 403.5h0M271.32 404h0M271.95 404.5h0M272.57 405h0M273.2 405.5h0M273.83 406h0M274.46 406.5h0M275.09 407h0M275.72 407.5h0M276.35 408h0M276.98 408.5h0M277.61 408.5h0M278.24 409h0M278.86 409.5h0M279.49 410h0M280.12 410.5h0M280.75 411h0M281.38 411.5h0M282.01 412h0M282.64 412.5h0M283.27 413h0M283.9 413.5h0M284.52 413.5h0M285.15 414h0M285.78 414.5h0M286.41 415h0M287.04 415.5h0M287.67 416h0M288.3 416h0M288.93 416.5h0M289.56 417h0M290.19 417.5h0M290.81 418h0M291.44 418.5h0M292.07 418.5h0M292.7 419h0M293.33 419.5h0M293.96 420h0M294.59 420.5h0M295.22 420.5h0M295.85 421h0M296.47 421.5h0M297.1 422h0M297.73 422h0M298.36 422.5h0M298.99 423h0M299.62 423.5h0M300.25 423.5h0M300.88 424h0M301.51 424.5h0M302.14 425h0M302.76 425h0M303.39 425.5h0M304.02 426h0M304.65 426h0M305.28 426.5h0M305.91 427h0M306.54 427.5h0M307.17 427.5h0M307.8 428h0M308.42 428.5h0M309.05 428.5h0M309.68 429h0M310.31 429.5h0M310.94 429.5h0M311.57 430h0M312.2 430.5h0M312.83 430.5h0M313.46 431h0M314.09 431.5h0M314.71 431.5h0M315.34 432h0M315.97 432.5h0M316.6 432.5h0M317.23 433h0M317.86 433h0M318.49 433.5h0M319.12 434h0M319.75 434h0M320.37 434.5h0M321 435h0M321.63 435h0M322.26 435.5h0M322.89 435.5h0M323.52 436h0M324.15 436h0M324.78 436.5h0M325.41 437h0M326.04 437h0M326.66 437.5h0M327.29 437.5h0M327.92 438h0M328.55 438.5h0M329.18 438.5h0M329.81 439h0M330.44 439h0M331.07 439.5h0M331.7 439.5h0M332.32 440h0M332.95 440h0M333.58 440.5h0M334.21 440.5h0M334.84 441h0M335.47 441h0M336.1 441.5h0M336.73 442h0M337.36 442h0M337.99 442.5h0M338.61 442.5h0M339.24 443h0M339.87 443h0M340.5 443.5h0M341.13 443.5h0M341.76 444h0M342.39 444h0M343.02 444.5h0M343.65 444.5h0M344.27 444.5h0M344.9 445h0M345.53 445h0M346.16 445.5h0M346.79 445.5h0M347.42 446h0M348.05 446h0M348.68 446.5h0M349.31 446.5h0M349.94 447h0M350.56 447h0M351.19 447h0M351.82 447.5h0M352.45 447.5h0M353.08 448h0M353.71 448h0M354.34 448.5h0M354.97 448.5h0M355.6 449h0M356.22 449h0M356.85 449h0M357.48 449.5h0M358.11 449.5h0M358.74 450h0M359.37 450h0M360 450h0M360.63 450.5h0M361.26 450.5h0M361.89 451h0M362.51 451h0M363.14 451h0M363.77 451.5h0M364.4 451.5h0M365.03 452h0M365.66 452h0M366.29 452h0M366.92 452.5h0M367.55 452.5h0M368.18 453h0M368.8 453h0M369.43 453h0M370.06 453.5h0M370.69 453.5h0M371.32 453.5h0M371.95 454h0M372.58 454h0M373.21 454h0M373.84 454.5h0M374.46 454.5h0M375.09 455h0M375.72 455h0M376.35 455h0M376.98 455.5h0M377.61 455.5h0M378.24 455.5h0M378.87 456h0M379.5 456h0M380.13 456h0M380.75 456.5h0M381.38 456.5h0M382.01 456.5h0M382.64 457h0M383.27 457h0M383.9 457h0M384.53 457.5h0M385.16 457.5h0M385.79 457.5h0M386.41 458h0M387.04 458h0M387.67 458h0M388.3 458.5h0M388.93 458.5h0M389.56 458.5h0M390.19 459h0M390.82 459h0M391.45 459h0M392.08 459.5h0M392.7 459.5h0M393.33 459.5h0M393.96 460h0M394.59 460h0M395.22 460h0M395.85 460.5h0M396.48 460.5h0M397.11 460.5h0M397.74 461h0M398.36 461h0M398.99 461h0M399.62 461h0M400.25 461.5h0M400.88 461.5h0M401.51 461.5h0M402.14 462h0M402.77 462h0M403.4 462h0M404.03 462.5h0M404.65 462.5h0M405.28 462.5h0M405.91 462.5h0M406.54 463h0M407.17 463h0M407.8 463h0M408.43 463.5h0M409.06 463.5h0M409.69 463.5h0M410.31 463.5h0M410.94 464h0M411.57 464h0M412.2 464h0M412.83 464h0M413.46 464.5h0M414.09 464.5h0M414.72 464.5h0M415.35 465h0M415.98 465h0M416.6 465h0M417.23 465h0M417.86 465.5h0M418.49 465.5h0M419.12 465.5h0M419.75 465.5h0M420.38 466h0M421.01 466h0M421.64 466h0M422.26 466h0M422.89 466.5h0M423.52 466.5h0M424.15 466.5h0M424.78 466.5h0M425.41 467h0M426.04 467h0M426.67 467h0M427.3 467h0M427.93 467.5h0M428.55 467.5h0M429.18 467.5h0M429.81 467.5h0M430.44 468h0M431.07 468h0M431.7 468h0M432.33 468h0M432.96 468.5h0M433.59 468.5h0M434.21 468.5h0M434.84 468.5h0M435.47 468.5h0M436.1 469h0M436.73 469h0M437.36 469h0M437.99 469h0M438.62 469.5h0M439.25 469.5h0M439.88 469.5h0M440.5 469.5h0M441.13 469.5h0M441.76 470h0M442.39 470h0M443.02 470h0M443.65 470h0M444.28 470.5h0M444.91 470.5h0M445.54 470.5h0M446.16 470.5h0M446.79 470.5h0M447.42 471h0M448.05 471h0M448.68 471h0M449.31 471h0M449.94 471h0M450.57 471.5h0M451.2 471.5h0M451.83 471.5h0M452.45 471.5h0M453.08 471.5h0M453.71 472h0M454.34 472h0M454.97 472h0M455.6 472h0M456.23 472h0M456.86 472.5h0M457.49 472.5h0M458.11 472.5h0M458.74 472.5h0M459.37 472.5h0M460 473h0M460.63 473h0M461.26 473h0M461.89 473h0M462.52 473h0M463.15 473.5h0M463.78 473.5h0M464.4 473.5h0M465.03 473.5h0M465.66 473.5h0M466.29 473.5h0M466.92 474h0M467.55 474h0M468.18 474h0M468.81 474h0M469.44 474h0M470.06 474.5h0M470.69 474.5h0M471.32 474.5h0M471.95 474.5h0M472.58 474.5h0M473.21 474.5h0M473.84 475h0M474.47 475h0M475.1 475h0M475.73 475h0M476.35 475h0M476.98 475h0M477.61 475.5h0M478.24 475.5h0M478.87 475.5h0M479.5 475.5h0M480.13 475.5h0M480.76 475.5h0M481.39 476h0M482.01 476h0M482.64 476h0M483.27 476h0M483.9 476h0M484.53 476h0M485.16 476.5h0M485.79 476.5h0M486.42 476.5h0M487.05 476.5h0M487.68 476.5h0M488.3 476.5h0M488.93 477h0M489.56 477h0M490.19 477h0M490.82 477h0M491.45 477h0M492.08 477h0M492.71 477h0M493.34 477.5h0M493.97 477.5h0M494.59 477.5h0M495.22 477.5h0M495.85 477.5h0M496.48 477.5h0M497.11 477.5h0M497.74 478h0M498.37 478h0M499 478h0M499.63 478h0M500.25 478h0M500.88 478h0M501.51 478h0M502.14 478.5h0M502.77 478.5h0M503.4 478.5h0M504.03 478.5h0M504.66 478.5h0M505.29 478.5h0M505.92 478.5h0M506.54 479h0M507.17 479h0M507.8 479h0M508.43 479h0M509.06 479h0M509.69 479h0M510.32 479h0M510.95 479.5h0M511.58 479.5h0M512.2 479.5h0M512.83 479.5h0M513.46 479.5h0M514.09 479.5h0M514.72 479.5h0M515.35 479.5h0M515.98 480h0M516.61 480h0M517.24 480h0M517.87 480h0M518.49 480h0M519.12 480h0M519.75 480h0M520.38 480h0M521.01 480.5h0M521.64 480.5h0M522.27 480.5h0M522.9 480.5h0M523.53 480.5h0M524.15 480.5h0M524.78 480.5h0M525.41 480.5h0M526.04 481h0M526.67 481h0M527.3 481h0M527.93 481h0M528.56 481h0M529.19 481h0M529.82 481h0M530.44 481h0M531.07 481h0M531.7 481.5h0M532.33 481.5h0M532.96 481.5h0M533.59 481.5h0M534.22 481.5h0M534.85 481.5h0M535.48 481.5h0M536.1 481.5h0M536.73 481.5h0M537.36 482h0M537.99 482h0M538.62 482h0M539.25 482h0M539.88 482h0M540.51 482h0M541.14 482h0M541.77 482h0M542.39 482h0M543.02 482.5h0M543.65 482.5h0M544.28 482.5h0M544.91 482.5h0M545.54 482.5h0M546.17 482.5h0M546.8 482.5h0M547.43 482.5h0M548.05 482.5h0M548.68 482.5h0M549.31 483h0M549.94 483h0M550.57 483h0M551.2 483h0M551.83 483h0M552.46 483h0M553.09 483h0M553.72 483h0M554.34 483h0M554.97 483h0M555.6 483.5h0M556.23 483.5h0M556.86 483.5h0M557.49 483.5h0M558.12 483.5h0M558.75 483.5h0M559.38 483.5h0M560 483.5h0M560.63 483.5h0M561.26 483.5h0M561.89 484h0M562.52 484h0M563.15 484h0M563.78 484h0M564.41 484h0M565.04 484h0M565.67 484h0M566.29 484h0M566.92 484h0M567.55 484h0M568.18 484h0M568.81 484.5h0M569.44 484.5h0M570.07 484.5h0M570.7 484.5h0M571.33 484.5h0M571.95 484.5h0M572.58 484.5h0M573.21 484.5h0M573.84 484.5h0M574.47 484.5h0M575.1 484.5h0M575.73 484.5h0M576.36 485h0M576.99 485h0M577.62 485h0M578.24 485h0M578.87 485h0M579.5 485h0M580.13 485h0M580.76 485h0M581.39 485h0M582.02 485h0M582.65 485h0M583.28 485h0M583.9 485.5h0M584.53 485.5h0M585.16 485.5h0M585.79 485.5h0M586.42 485.5h0M587.05 485.5h0M587.68 485.5h0M588.31 485.5h0M588.94 485.5h0M589.57 485.5h0M590.19 485.5h0M590.82 485.5h0M591.45 485.5h0M592.08 486h0M592.71 486h0M593.34 486h0M593.97 486h0M594.6 486h0M595.23 486h0M595.85 486h0M596.48 486h0M597.11 486h0M597.74 486h0M598.37 486h0M599 486h0M599.63 486h0M600.26 486h0M600.89 486.5h0M601.52 486.5h0M602.14 486.5h0M602.77 486.5h0M603.4 486.5h0M604.03 486.5h0M604.66 486.5h0M605.29 486.5h0M605.92 486.5h0M606.55 486.5h0M607.18 486.5h0M607.8 486.5h0M608.43 486.5h0M609.06 486.5h0M609.69 487h0M610.32 487h0M610.95 487h0M611.58 487h0M612.21 487h0M612.84 487h0M613.47 487h0M614.09 487h0M614.72 487h0M615.35 487h0M615.98 487h0M616.61 487h0M617.24 487h0M617.87 487h0M618.5 487h0M619.13 487h0M619.76 487.5h0M620.38 487.5h0M621.01 487.5h0M621.64 487.5h0M622.27 487.5h0M622.9 487.5h0M623.53 487.5h0M624.16 487.5h0M624.79 487.5h0M625.42 487.5h0M626.04 487.5h0M626.67 487.5h0M627.3 487.5h0M627.93 487.5h0M628.56 487.5h0M629.19 487.5h0M629.82 488h0M630.45 488h0M631.08 488h0M631.71 488h0M632.33 488h0M632.96 488h0M633.59 488h0M634.22 488h0M634.85 488h0M635.48 488h0M636.11 488h0M636.74 488h0M637.37 488h0M637.99 488h0M638.62 488h0M639.25 488h0M639.88 488h0M640.51 488h0M641.14 488.5h0M641.77 488.5h0M642.4 488.5h0M643.03 488.5h0M643.66 488.5h0M644.28 488.5h0M644.91 488.5h0M645.54 488.5h0M646.17 488.5h0M646.8 488.5h0M647.43 488.5h0M648.06 488.5h0M648.69 488.5h0M649.32 488.5h0M649.94 488.5h0M650.57 488.5h0M651.2 488.5h0M651.83 488.5h0M652.46 488.5h0M653.09 489h0M653.72 489h0M654.35 489h0M654.98 489h0M655.61 489h0M656.23 489h0M656.86 489h0M657.49 489h0M658.12 489h0M658.75 489h0M659.38 489h0M660.01 489h0M660.64 489h0M661.27 489h0M661.89 489h0M662.52 489h0M663.15 489h0M663.78 489h0M664.41 489h0M665.04 489h0M665.67 489h0M666.3 489.5h0M666.93 489.5h0M667.56 489.5h0M668.18 489.5h0M668.81 489.5h0M669.44 489.5h0M670.07 489.5h0M670.7 489.5h0M671.33 489.5h0M671.96 489.5h0M672.59 489.5h0M673.22 489.5h0M673.84 489.5h0M674.47 489.5h0M675.1 489.5h0"/>
</g>
<g fill="none" stroke="#262626" stroke-width="1">
<rect x="46.12" y="25.63" width="628.95" height="512.61"/>
<path d="M46.12 538.24v-6.90M46.12 25.63v6.90M109.02 538.24v-6.90M109.02 25.63v6.90M171.91 538.24v-6.90M171.91 25.63v6.90M234.81 538.24v-6.90M234.81 25.63v6.90M297.70 538.24v-6.90M297.70 25.63v6.90M360.60 538.24v-6.90M360.60 25.63v6.90M423.49 538.24v-6.90M423.49 25.63v6.90M486.39 538.24v-6.90M486.39 25.63v6.90M549.28 538.24v-6.90M549.28 25.63v6.90M612.18 538.24v-6.90M612.18 25.63v6.90M675.07 538.24v-6.90M675.07 25.63v6.90M46.12 538.24h6.90M675.07 538.24h-6.90M46.12 474.16h6.90M675.07 474.16h-6.90M46.12 410.09h6.90M675.07 410.09h-6.90M46.12 346.01h6.90M675.07 346.01h-6.90M46.12 281.94h6.90M675.07 281.94h-6.90M46.12 217.86h6.90M675.07 217.86h-6.90M46.12 153.78h6.90M675.07 153.78h-6.90M46.12 89.71h6.90M675.07 89.71h-6.90M46.12 25.63h6.90M675.07 25.63h-6.90"/>
</g>
<g font-size="19.2px" fill="#111" stroke="#111" stroke-width="0.4">
<text transform="translate(46.12 566.6)" text-anchor="middle">0</text><text transform="translate(109.02 566.6)" text-anchor="middle">1</text><text transform="translate(171.91 566.6)" text-anchor="middle">2</text><text transform="translate(234.81 566.6)" text-anchor="middle">3</text><text transform="translate(297.70 566.6)" text-anchor="middle">4</text><text transform="translate(360.60 566.6)" text-anchor="middle">5</text><text transform="translate(423.49 566.6)" text-anchor="middle">6</text><text transform="translate(486.39 566.6)" text-anchor="middle">7</text><text transform="translate(549.28 566.6)" text-anchor="middle">8</text><text transform="translate(612.18 566.6)" text-anchor="middle">9</text><text transform="translate(675.07 566.6)" text-anchor="middle">10</text>
<text transform="translate(37.5 546.54)" text-anchor="end">0</text><text transform="translate(37.5 482.46)" text-anchor="end">1</text><text transform="translate(37.5 418.39)" text-anchor="end">2</text><text transform="translate(37.5 354.31)" text-anchor="end">3</text><text transform="translate(37.5 290.24)" text-anchor="end">4</text><text transform="translate(37.5 226.16)" text-anchor="end">5</text><text transform="translate(37.5 162.08)" text-anchor="end">6</text><text transform="translate(37.5 98.01)" text-anchor="end">7</text><text transform="translate(37.5 33.93)" text-anchor="end">8</text>
</g>
<g fill="#fff"><rect x="104" y="564.5" width="4.34" height="3.7"/><rect x="110.58" y="564.5" width="4.1" height="3.7"/><rect x="664.5" y="564.5" width="4.68" height="3.7"/><rect x="671.26" y="564.5" width="3.74" height="3.7"/><rect x="27.3" y="479.5" width="4.04" height="3.7"/><rect x="33.58" y="479.5" width="3.7" height="3.7"/></g>
<text x="360.60" y="15.1" text-anchor="middle" font-size="21.1px" font-weight="bold" fill="#000" stroke="#000" stroke-width="0.3">Proposed Method</text>
<text x="359.60" y="591.9" text-anchor="middle" font-size="21.1px" fill="#262626" stroke="#262626" stroke-width="0.4">t</text>
<text transform="translate(15.7 282.74) rotate(-90)" text-anchor="middle" font-size="21.1px" fill="#262626" stroke="#262626" stroke-width="0.4">F(t)</text>
<g>
<rect x="438.8" y="42.1" width="220.9" height="78.8" fill="#fff" stroke="#262626" stroke-width="1"/>
<circle cx="473.6" cy="57.1" r="2.1" fill="#f00"/>
<circle cx="473.6" cy="81.7" r="2.1" fill="#000"/>
<circle cx="473.6" cy="106.3" r="2.1" fill="#00f"/>
<g font-size="17.3px" fill="#000" stroke="#000" stroke-width="0.35">
<text x="507.6" y="63.9">Power-Law</text>
<text x="507.6" y="88.5">Exponential-Decay</text>
<text x="507.6" y="113.2">Mittag-Leffler</text>
</g>
</g>
</svg>
</body></html>
